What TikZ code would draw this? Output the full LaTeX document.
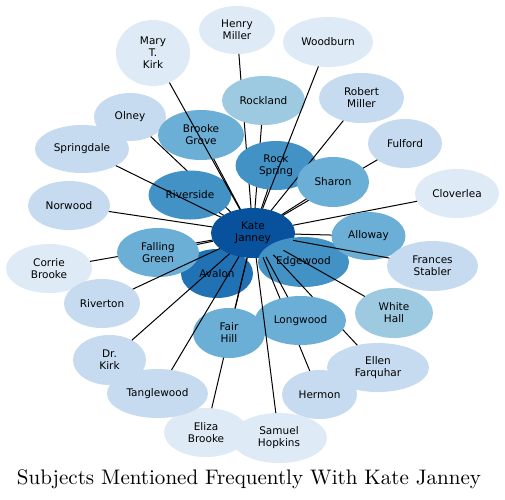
\documentclass[tikz,border=0pt]{standalone}
\usepackage{graphicx}
\usepackage{fontspec}
\newfontfamily\lblfont{DejaVu Sans}
\usetikzlibrary{shapes.geometric}
\definecolor{cB}{HTML}{DEEBF7}
\definecolor{cC}{HTML}{C6DBEF}
\definecolor{cD}{HTML}{9ECAE1}
\definecolor{cE}{HTML}{6BAED6}
\definecolor{cF}{HTML}{4292C6}
\definecolor{cG}{HTML}{2171B5}
\definecolor{cH}{HTML}{08519C}
\tikzset{
  nd/.style={ellipse, draw=none, inner sep=0pt, outer sep=0pt, align=center,
    font={\lblfont\fontsize{10.5}{12}\selectfont}, text=black},
  sz/.style 2 args={minimum width=2*#1, minimum height=2*#2},
  ed/.style={line width=1pt, black},
}
\begin{document}
\begin{tikzpicture}[x=1pt,y=-1pt]
\useasboundingbox[fill=white] (0,0) rectangle (505,499);
% core
\node[nd, sz={36}{24.5}, fill=cG] (av) at (217,273.5) {Avalon};
\node[nd, sz={42}{25}, fill=cH] (kj) at (253,233) {Kate\\Janney};
\node[nd, sz={45.5}{25}, fill=cF] (eg) at (303.5,262) {Edgewood};
% top
\node[nd, sz={38}{24}, fill=cB] (hm) at (237,30) {Henry\\Miller};
\draw[ed] (hm) -- (kj);
\node[nd, sz={41.5}{24.5}, fill=cD] (rl) at (263.5,100.5) {Rockland};
\draw[ed] (rl) -- (kj);
\node[nd, sz={36}{24}, fill=cC] (ol) at (130,117) {Olney};
\draw[ed] (ol) -- (kj);
\node[nd, sz={41.5}{24.5}, fill=cF] (rs) at (190,195) {Riverside};
\draw[ed] (rs) -- (kj);
\node[nd, sz={47}{24}, fill=cC] (sd) at (82,149) {Springdale};
\draw[ed] (sd) -- (kj);
\node[nd, sz={37}{33}, fill=cB] (mk) at (153,53) {Mary\\T.\\Kirk};
\node[nd, sz={43}{25}, fill=cE] (bg) at (201,135) {Brooke\\Grove};
\draw[ed] (bg) -- (kj);
\draw[ed] (mk) -- (kj);
\node[nd, sz={41}{24.5}, fill=cC] (nw) at (69,205.5) {Norwood};
\draw[ed] (nw) -- (kj);
\node[nd, sz={40.5}{24.5}, fill=cF] (rsp) at (276,165.5) {Rock\\Spring};
\draw[ed] (rsp) -- (kj);
\node[nd, sz={45}{25}, fill=cB] (wb) at (328,42) {Woodburn};
\draw[ed] (wb) -- (kj);
\node[nd, sz={42.5}{25}, fill=cC] (rm) at (361.5,98) {Robert\\Miller};
\draw[ed] (rm) -- (kj);
\node[nd, sz={37}{24.5}, fill=cC] (ff) at (405,143.5) {Fulford};
\draw[ed] (ff) -- (kj);
\node[nd, sz={36}{25}, fill=cE] (sh) at (333,182) {Sharon};
\draw[ed] (sh) -- (kj);
% right
\node[nd, sz={42}{24.5}, fill=cB] (cl) at (457,193.5) {Cloverlea};
\draw[ed] (cl) -- (kj);
\node[nd, sz={37}{24}, fill=cE] (al) at (368.5,236) {Alloway};
\draw[ed] (al) -- (kj);
\node[nd, sz={45.5}{25}, fill=cC] (fs) at (432.5,266) {Frances\\Stabler};
\draw[ed] (fs) -- (kj);
\node[nd, sz={39}{25}, fill=cD] (wh) at (394,313) {White\\Hall};
\draw[ed] (wh) -- (kj);
% bottom
\node[nd, sz={37.5}{24.5}, fill=cC] (he) at (319.5,394.5) {Hermon};
\node[nd, sz={51}{24.5}, fill=cC] (ef) at (378,367.5) {Ellen\\Farquhar};
\draw[ed] (he) -- (kj);
\draw[ed] (ef) -- (kj);
\node[nd, sz={42}{24.5}, fill=cB] (eb) at (206,432.5) {Eliza\\Brooke};
\draw[ed] (eb) -- (kj);
\node[nd, sz={48}{25}, fill=cB] (shp) at (279,438) {Samuel\\Hopkins};
\node[nd, sz={36}{25}, fill=cE] (fh) at (229,333) {Fair\\Hill};
\draw[ed] (fh) -- (kj);
\node[nd, sz={45.5}{24.5}, fill=cE] (lw) at (300.5,320.5) {Longwood};
\draw[ed] (lw) -- (kj);
\draw[ed] (shp) -- (kj);
% left
\node[nd, sz={43}{24.5}, fill=cB] (cb) at (49,268.5) {Corrie\\Brooke};
\draw[ed] (cb) -- (kj);
\node[nd, sz={41}{24.5}, fill=cE] (fg) at (158,252.5) {Falling\\Green};
\draw[ed] (fg) -- (kj);
\node[nd, sz={38}{24.5}, fill=cC] (rt) at (102,303.5) {Riverton};
\draw[ed] (rt) -- (kj);
\node[nd, sz={36.5}{25}, fill=cC] (dk) at (109.5,360) {Dr.\\Kirk};
\draw[ed] (dk) -- (kj);
\node[nd, sz={50.5}{24.5}, fill=cC] (tw) at (157.5,393.5) {Tanglewood};
\draw[ed] (tw) -- (kj);
% title
\node[anchor=base, inner sep=0pt] (title) at (249,484) {\resizebox{464pt}{!}{Subjects Mentioned Frequently With Kate Janney}};
\end{tikzpicture}
\end{document}
